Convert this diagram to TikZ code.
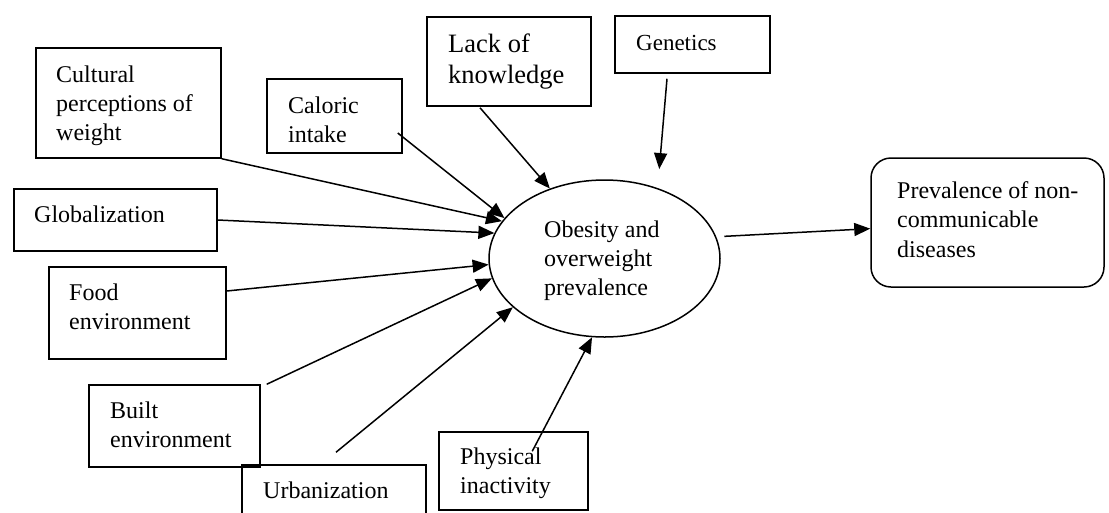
\documentclass[tikz,border=0pt]{standalone}
\usepackage{fontspec}
\setmainfont{Liberation Serif}
\usetikzlibrary{arrows.meta,calc,shapes.geometric}
\begin{document}
\begin{tikzpicture}[x=1pt,y=-1pt,
  box/.style={draw, line width=1.5pt, inner sep=0pt},
  txt/.style={inner sep=0pt, align=left, anchor=base west, font=\fontsize{24}{29}\selectfont},
  arr/.style={line width=1.5pt, -{Triangle[length=16pt,width=13pt]}},
]
\useasboundingbox (0,0) rectangle (1109,512);
% boxes
\node[box, minimum width=185, minimum height=110] (cult) at (128.5,103) {};
\node[box, minimum width=135, minimum height=74] (cal) at (334.5,116) {};
\node[box, minimum width=164, minimum height=89] (lack) at (509,61.5) {};
\node[box, minimum width=155, minimum height=57] (gen) at (692.5,44.5) {};
\node[box, minimum width=203, minimum height=62] (glob) at (115.5,220) {};
\node[box, minimum width=177, minimum height=92] (food) at (137.5,313) {};
\node[box, minimum width=171, minimum height=82] (built) at (174.5,426) {};
\node[box, minimum width=184, minimum height=50] (urb) at (334,490) {};
\node[box, minimum width=149, minimum height=78] (phys) at (513.5,471) {};
\node[box, rounded corners=20pt, minimum width=233, minimum height=129] (prev) at (987.5,222.5) {};
\node[box, ellipse, minimum width=231, minimum height=157] (ell) at (604.5,258.5) {};
% texts (anchored at baseline of last line)
\node[txt] (cultT) at (56,140) {Cultural\\perceptions of\\weight};
\node[txt] (calT) at (288,142) {Caloric\\intake};
\node[txt, font=\fontsize{26.5}{31}\selectfont] (lackT) at (448,83) {Lack of\\knowledge};
\node[txt, font=\fontsize{23}{28}\selectfont] (genT) at (636,50) {Genetics};
\node[txt] (globT) at (34,222) {Globalization};
\node[txt] (foodT) at (69,329) {Food\\environment};
\node[txt] (builtT) at (110,447) {Built\\environment};
\node[txt] (urbT) at (263,498) {Urbanization};
\node[txt] (physT) at (460,493) {Physical\\inactivity};
\node[txt] (ellT) at (544,295) {Obesity and\\overweight\\prevalence};
\node[txt, font=\fontsize{24}{29.5}\selectfont] (prevT) at (897,257) {Prevalence of non-\\communicable\\diseases};
% arrows
\draw[arr] (cult.south east) -- (ell.160);
\draw[arr] ($(cal.east)+(-5,17)$) -- (ell.158);
\draw[arr] ($(lack.south)+(-29,1)$) -- (ell.128);
\draw[arr, shorten >=19pt] ($(gen.south)+(-25.5,5)$) -- (ell.53.5);
\draw[arr] (glob.east) -- (ell.167);
\draw[arr] ($(food.east)+(0,-22)$) -- (ell.183);
\draw[arr] ($(built.north east)+(6,0)$) -- (ell.190);
\draw[arr] ($(urb.north)+(2,-12)$) -- (ell.208);
\draw[arr] ($(phys.north west)+(94,20)$) -- (ell.261);
\draw[arr, shorten <=8pt] (ell.11) -- (prev.183);
\end{tikzpicture}
\end{document}
